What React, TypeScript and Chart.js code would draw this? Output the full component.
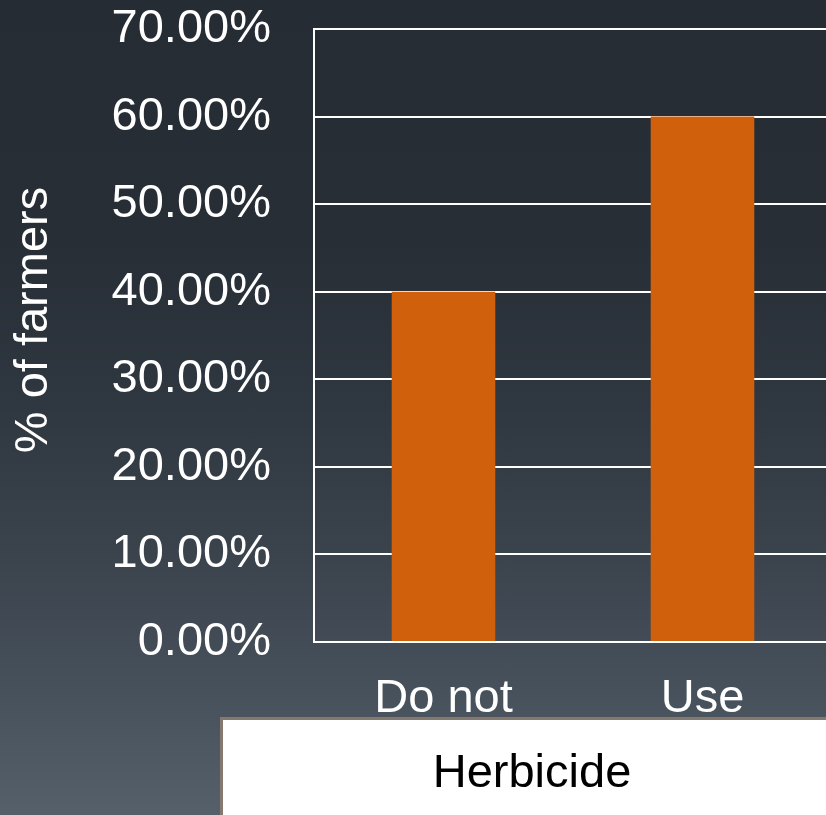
import React, { useEffect, useRef } from 'react';
import { Chart, registerables } from 'chart.js';

Chart.register(...registerables);

const categories = ['Do not', 'Use'];
const farmerShare = [0.4, 0.6];
const yMin = 0;
const yMax = 0.7;
const yStep = 0.1;
const yAxisTitle = '% of farmers';
const xAxisTitle = 'Herbicide';

const FONT = "'Liberation Sans', Arial, sans-serif";

const titlesPlugin = {
  id: 'customTitles',
  afterDraw(chart: any) {
    const { ctx, chartArea } = chart;
    // y axis title
    ctx.save();
    ctx.translate(chartArea.left - 267, chartArea.top + 291);
    ctx.rotate(-Math.PI / 2);
    ctx.font = `47px ${FONT}`;
    ctx.fillStyle = '#ffffff';
    ctx.textAlign = 'center';
    ctx.textBaseline = 'alphabetic';
    ctx.fillText(yAxisTitle, 0, 0);
    ctx.restore();

    // x axis title box
    ctx.save();
    const bx = chartArea.left - 94;
    const by = chartArea.bottom + 75;
    const bw = 624;
    const bh = 130;
    ctx.fillStyle = '#ffffff';
    ctx.fillRect(bx, by, bw, bh);
    ctx.strokeStyle = '#85786f';
    ctx.lineWidth = 3;
    ctx.strokeRect(bx + 1.5, by + 1.5, bw - 3, bh - 3);
    ctx.font = `47px ${FONT}`;
    ctx.fillStyle = '#000000';
    ctx.textAlign = 'center';
    ctx.textBaseline = 'alphabetic';
    ctx.fillText(xAxisTitle, bx + bw / 2, by + 70);
    ctx.restore();
  },
};

export default function App() {
  const canvasRef = useRef<HTMLCanvasElement | null>(null);

  useEffect(() => {
    if (!canvasRef.current) return;
    const chart = new Chart(canvasRef.current, {
      type: 'bar',
      data: {
        labels: categories,
        datasets: [
          {
            data: farmerShare,
            backgroundColor: '#d1600c',
            borderWidth: 0,
            barPercentage: 0.4,
            categoryPercentage: 1,
          },
        ],
      },
      options: {
        animation: false,
        responsive: false,
        maintainAspectRatio: false,
        layout: { padding: { top: 29, right: 18, left: 0, bottom: 0 } },
        plugins: {
          legend: { display: false },
          tooltip: { enabled: false },
        },
        scales: {
          x: {
            grid: { display: false, drawTicks: false },
            border: { display: true, color: '#ffffff', width: 2 },
            ticks: {
              color: '#ffffff',
              font: { size: 47, family: FONT },
              padding: 29,
              maxRotation: 0,
              autoSkip: false,
            },
            afterFit(scale: any) {
              scale.height = 173;
            },
          },
          y: {
            min: yMin,
            max: yMax,
            ticks: {
              stepSize: yStep,
              color: '#ffffff',
              font: { size: 47, family: FONT },
              padding: 43,
              callback: (v: any) => (Number(v) * 100).toFixed(2) + '%',
            },
            grid: { color: '#ffffff', lineWidth: 2, drawTicks: false },
            border: { display: true, color: '#ffffff', width: 2 },
            afterFit(scale: any) {
              scale.width = 314;
              scale.paddingTop = 0;
              scale.paddingBottom = 0;
            },
          },
        },
      },
      plugins: [titlesPlugin],
    });
    return () => chart.destroy();
  }, []);

  return (
    <div
      style={{
        position: 'fixed',
        left: 0,
        top: 0,
        width: 826,
        height: 815,
        overflow: 'hidden',
        background:
          'linear-gradient(to bottom, #262c34 0%, #272e36 30%, #2f3740 50%, #3a424c 67%, #48525c 86%, #56606b 100%)',
      }}
    >
      <canvas ref={canvasRef} width={850} height={815} style={{ display: 'block' }} />
    </div>
  );
}
